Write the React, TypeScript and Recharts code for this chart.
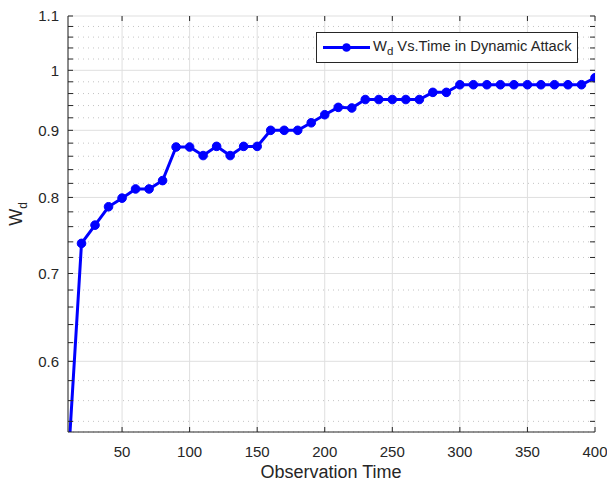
import React from "react";
import { LineChart, Line, XAxis, YAxis, CartesianGrid, Legend } from "recharts";

document.body.style.margin = "0";

const time = [
  10, 20, 30, 40, 50, 60, 70, 80, 90, 100,
  110, 120, 130, 140, 150, 160, 170, 180, 190, 200,
  210, 220, 230, 240, 250, 260, 270, 280, 290, 300,
  310, 320, 330, 340, 350, 360, 370, 380, 390, 400,
];
const wd = [
  0.5, 0.738, 0.762, 0.787, 0.799, 0.812, 0.812, 0.824, 0.874, 0.874,
  0.861, 0.875, 0.861, 0.875, 0.875, 0.9, 0.9, 0.9, 0.912, 0.925,
  0.937, 0.936, 0.95, 0.95, 0.95, 0.95, 0.95, 0.962, 0.962, 0.975,
  0.975, 0.975, 0.975, 0.975, 0.975, 0.975, 0.975, 0.975, 0.975, 0.987,
];

const xTicks = [50, 100, 150, 200, 250, 300, 350, 400];
const yTicks = [0.6, 0.7, 0.8, 0.9, 1, 1.1];
const yMinorTicks = [
  0.54, 0.56, 0.58, 0.62, 0.64, 0.66, 0.68, 0.72, 0.74, 0.76, 0.78,
  0.82, 0.84, 0.86, 0.88, 0.92, 0.94, 0.96, 0.98, 1.02, 1.04, 1.06, 1.08,
];
const allYTicks = [...yTicks, ...yMinorTicks];

const chartData = time.map((t, i) => ({ time: t, wd: wd[i] }));

const AX = "#262626";
const BLUE = "#0000ff";
const FONT = "'Liberation Sans', Arial, Helvetica, sans-serif";
const X_DOMAIN: [number, number] = [10, 400];
const Y_DOMAIN: [number, number] = [0.53, 1.1];

// plot box edges (from the chart margins / axis sizes below)
const LEFT = 68;
const RIGHT = 595;
const TOP = 16;
const BOTTOM = 432;
const TICK = 5;

const YTick = (props: any) => {
  const { x, y, payload } = props;
  const v = payload.value;
  const major = yTicks.includes(v);
  return (
    <g>
      <line x1={LEFT} x2={LEFT + TICK} y1={y} y2={y} stroke={AX} />
      <line x1={RIGHT - TICK} x2={RIGHT} y1={y} y2={y} stroke={AX} />
      {major && (
        <text x={x} y={y} dy="0.35em" textAnchor="end" fontSize={15} fill={AX} fontFamily={FONT}>
          {v}
        </text>
      )}
    </g>
  );
};

const XTick = (props: any) => {
  const { x, y, payload } = props;
  return (
    <g>
      <line x1={x} x2={x} y1={BOTTOM} y2={BOTTOM - TICK} stroke={AX} />
      <line x1={x} x2={x} y1={TOP} y2={TOP + TICK} stroke={AX} />
      <text x={x} y={y} dy="0.71em" textAnchor="middle" fontSize={15} fill={AX} fontFamily={FONT}>
        {payload.value}
      </text>
    </g>
  );
};

const GridRow = (p: any) => {
  const minor = p.index >= yTicks.length;
  return (
    <line
      key={p.key}
      x1={p.x1}
      x2={p.x2}
      y1={p.y1}
      y2={p.y2}
      stroke={minor ? "#c4c4c4" : "#dfdfdf"}
      strokeDasharray={minor ? "1 4" : undefined}
    />
  );
};

const YLabel = () => (
  <text
    x={22}
    y={214}
    transform="rotate(-90 22 214)"
    textAnchor="middle"
    fontSize={18}
    fill={AX}
    fontFamily={FONT}
  >
    W
    <tspan fontSize={12} dy={5}>
      d
    </tspan>
  </text>
);

const XLabel = () => (
  <text x={331} y={478} textAnchor="middle" fontSize={18} fill={AX} fontFamily={FONT}>
    Observation Time
  </text>
);

const LegendBox = () => (
  <div
    style={{
      width: 260,
      height: 29,
      border: `1px solid ${AX}`,
      background: "#fff",
      display: "flex",
      alignItems: "center",
      fontFamily: FONT,
      fontSize: 14.7,
      color: AX,
      boxSizing: "content-box",
    }}
  >
    <svg width={56} height={29}>
      <line x1={6} y1={14.5} x2={53} y2={14.5} stroke={BLUE} strokeWidth={3} />
      <circle cx={29.5} cy={14.5} r={4.3} fill={BLUE} />
    </svg>
    <span style={{ whiteSpace: "nowrap" }}>
      W<sub style={{ fontSize: 11.5 }}>d</sub> Vs.Time in Dynamic Attack
    </span>
  </div>
);

export default function App() {
  return (
    <div style={{ width: 607, height: 482, background: "#fff" }}>
      <LineChart
        width={607}
        height={482}
        data={chartData}
        margin={{ top: TOP, right: 607 - RIGHT, left: 0, bottom: 0 }}
      >
        <CartesianGrid xAxisId="x" yAxisId="y" stroke="#dfdfdf" horizontal={GridRow} />
        <XAxis
          xAxisId="x"
          dataKey="time"
          type="number"
          domain={X_DOMAIN}
          ticks={xTicks}
          interval={0}
          allowDataOverflow
          height={50}
          tickLine={false}
          tickSize={6}
          tickMargin={8}
          axisLine={{ stroke: AX }}
          tick={<XTick />}
          label={<XLabel />}
        />
        <XAxis
          xAxisId="xt"
          type="number"
          orientation="top"
          height={0}
          domain={X_DOMAIN}
          tick={false}
          tickLine={false}
          axisLine={{ stroke: AX }}
        />
        <YAxis
          yAxisId="y"
          type="number"
          scale="log"
          domain={Y_DOMAIN}
          ticks={allYTicks}
          interval={0}
          allowDataOverflow
          width={LEFT}
          tickLine={false}
          tickSize={6}
          tickMargin={3}
          axisLine={{ stroke: AX }}
          tick={<YTick />}
          label={<YLabel />}
        />
        <YAxis
          yAxisId="yr"
          type="number"
          scale="log"
          orientation="right"
          width={0}
          domain={Y_DOMAIN}
          allowDataOverflow
          tick={false}
          tickLine={false}
          axisLine={{ stroke: AX }}
        />
        <Legend
          layout="vertical"
          align="center"
          verticalAlign="middle"
          content={() => <LegendBox />}
          wrapperStyle={{ top: 32, left: 316, width: 262, height: 31 }}
        />
        <Line
          xAxisId="x"
          yAxisId="y"
          type="linear"
          dataKey="wd"
          stroke={BLUE}
          strokeWidth={3}
          dot={{ r: 4.3, fill: BLUE, stroke: BLUE, strokeWidth: 1 }}
          isAnimationActive={false}
        />
      </LineChart>
    </div>
  );
}
